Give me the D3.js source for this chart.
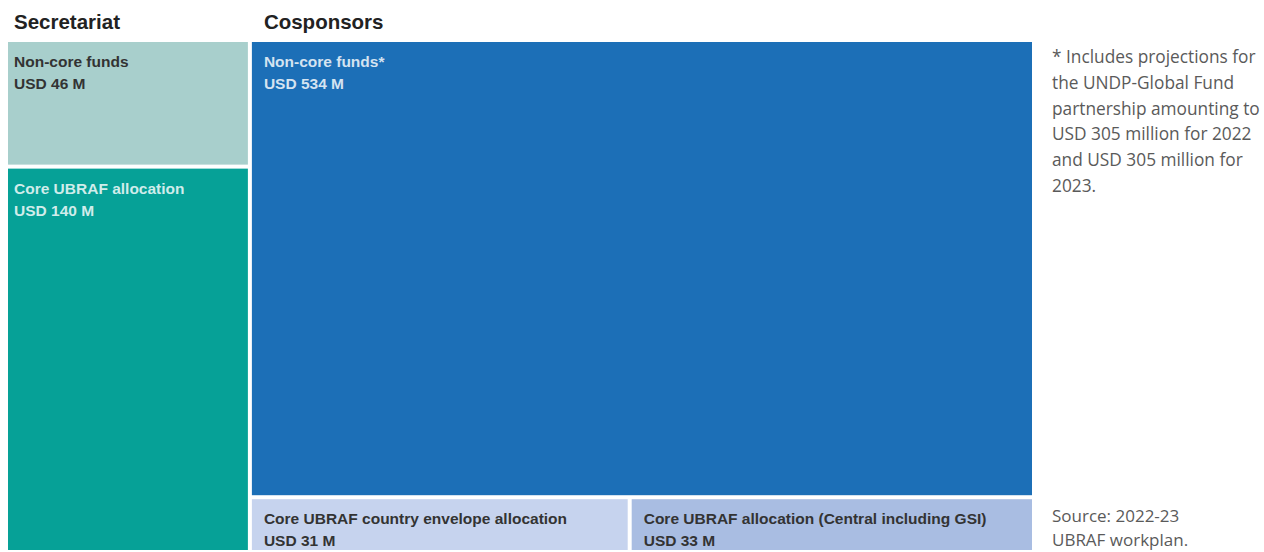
<!DOCTYPE html>
<html>
<head>
<meta charset="utf-8">
<script src="https://d3js.org/d3.v7.min.js"></script>
<style>
  body { margin: 0; background: #fff; }
  svg { display: block; }
</style>
</head>
<body>
<svg id="chart" width="1264" height="552"></svg>
<script>

// groups of the budget, left to right
var groups = ['Secretariat', 'Cosponsors'];

// secretariat cells, top to bottom (USD M)
var secretariatLabels = ['Non-core funds', 'Core UBRAF allocation'];
var secretariatValues = [46, 140];

// cosponsors: non-core on top, core split in two below (USD M)
var cosponsorNonCoreLabel = 'Non-core funds*';
var cosponsorNonCoreValue = 534;
var cosponsorCoreLabels = ['Core UBRAF country envelope allocation', 'Core UBRAF allocation (Central including GSI)'];
var cosponsorCoreValues = [31, 33];

var noteLines = ['* Includes projections for', 'the UNDP-Global Fund', 'partnership amounting to',
    'USD 305 million for 2022', 'and USD 305 million for', '2023.'];
var sourceLines = ['Source: 2022-23', 'UBRAF workplan.'];

// colours for each cell
var cellColors = {
    'Secretariat|Non-core funds': '#a8cfcc',
    'Secretariat|Core UBRAF allocation': '#06a197',
    'Cosponsors|Non-core funds*': '#1c6fb7',
    'Cosponsors|Core UBRAF country envelope allocation': '#c6d3ee',
    'Cosponsors|Core UBRAF allocation (Central including GSI)': '#a9bde2'
};
var darkText = { '#a8cfcc': true, '#c6d3ee': true, '#a9bde2': true };
// text inset from the cell edge, per group
var inset = { 'Secretariat': 6, 'Cosponsors': 12 };

// build the hierarchy
var tree = {
    name: 'root',
    children: [
        {
            name: groups[0],
            children: secretariatLabels.map((l, i) => ({ name: l, value: secretariatValues[i] }))
        },
        {
            name: groups[1],
            children: [
                { name: cosponsorNonCoreLabel, value: cosponsorNonCoreValue },
                {
                    name: 'Core',
                    children: cosponsorCoreLabels.map((l, i) => ({ name: l, value: cosponsorCoreValues[i] }))
                }
            ]
        }
    ]
};

var root = d3.hierarchy(tree).sum(d => d.value || 0);

d3.treemap()
    .tile(d3.treemapSliceDice)   // columns, then rows, then columns
    .size([1024, 508])
    .paddingInner(4)
    (root);

var svg = d3.select('#chart');
var g = svg.append('g').attr('transform', 'translate(8,42)');

var font = '"Liberation Sans", Arial, sans-serif';

// group headers
svg.selectAll('.header')
    .data(root.children)
    .enter()
    .append('text')
    .attr('x', d => 8 + d.x0 + inset[d.data.name])
    .attr('y', 29)
    .style('font-family', font)
    .style('font-weight', 'bold')
    .style('font-size', '20.5px')
    .style('fill', '#222')
    .text(d => d.data.name);

var groupOf = d => d.ancestors().find(a => a.depth === 1).data.name;
var colorOf = d => cellColors[groupOf(d) + '|' + d.data.name];

var cells = g.selectAll('.cell')
    .data(root.leaves())
    .enter()
    .append('g')
    .attr('transform', d => 'translate(' + d.x0 + ',' + d.y0 + ')');

cells.append('rect')
    .attr('width', d => d.x1 - d.x0)
    .attr('height', d => d.y1 - d.y0)
    .style('fill', colorOf);

var labels = cells.append('text')
    .style('font-family', font)
    .style('font-weight', 'bold')
    .style('font-size', '15.5px')
    .style('fill', d => darkText[colorOf(d)] ? '#333' : '#fff')
    .style('fill-opacity', d => darkText[colorOf(d)] ? 1 : 0.82);

labels.append('tspan')
    .attr('x', d => inset[groupOf(d)])
    .attr('y', 25)
    .text(d => d.data.name);

labels.append('tspan')
    .attr('x', d => inset[groupOf(d)])
    .attr('y', 47)
    .text(d => 'USD ' + d.data.value + ' M');

// notes on the right
var noteFont = '"Open Sans", sans-serif';

svg.selectAll('.note')
    .data(noteLines)
    .enter()
    .append('text')
    .attr('x', 1052)
    .attr('y', (d, i) => 63 + i * 25.8)
    .style('font-family', noteFont)
    .style('font-size', '17.3px')
    .style('fill', '#5a5a5a')
    .text(d => d);

svg.selectAll('.source')
    .data(sourceLines)
    .enter()
    .append('text')
    .attr('x', 1052)
    .attr('y', (d, i) => 522 + i * 24)
    .style('font-family', noteFont)
    .style('font-size', '17px')
    .style('fill', '#5a5a5a')
    .text(d => d);

</script>
</body>
</html>
